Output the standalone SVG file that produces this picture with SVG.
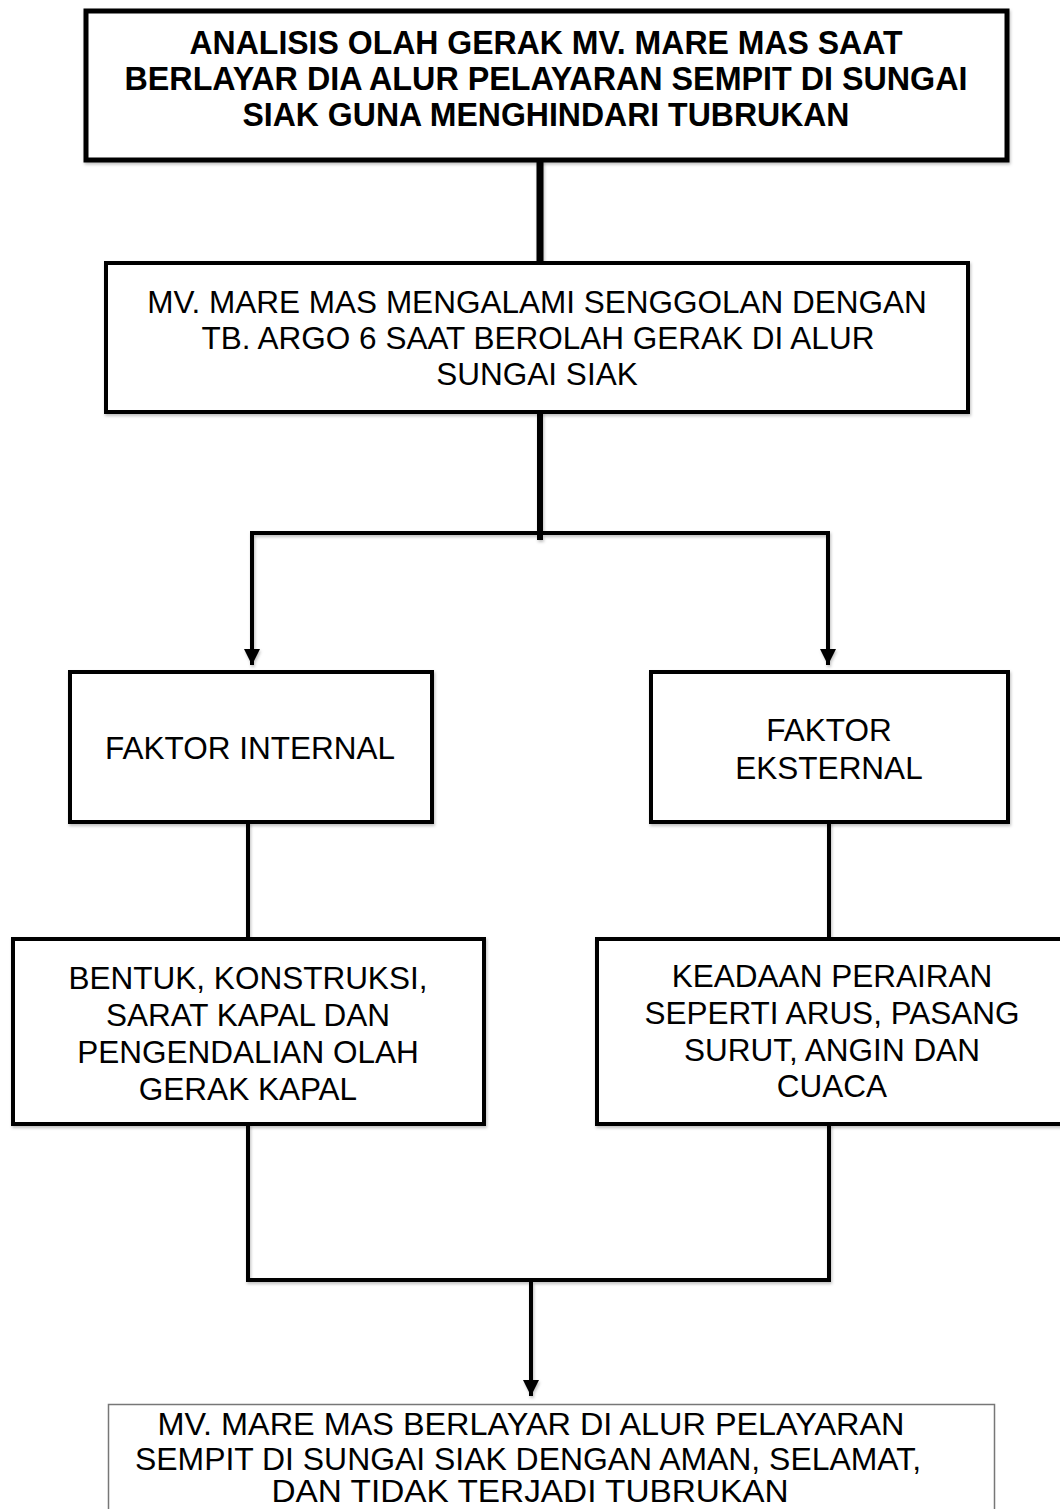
<svg xmlns="http://www.w3.org/2000/svg" width="1060" height="1509" viewBox="0 0 1060 1509">
<style>
  .box { fill: #fff; stroke: #000; stroke-width: 4; }
  .t { font-family: "Liberation Sans", Arial, sans-serif; font-size: 31.5px; fill: #000; text-anchor: middle; }
  .b { font-weight: bold; font-size: 34px; }
  .c { font-size: 31px; }
  .ln { fill: none; stroke: #000; stroke-width: 4; }
</style>
<defs>
  <filter id="sh" x="-5%" y="-5%" width="110%" height="120%">
    <feDropShadow dx="1" dy="2" stdDeviation="1.5" flood-color="#000" flood-opacity="0.25"/>
  </filter>
  <marker id="ah" markerUnits="userSpaceOnUse" markerWidth="16" markerHeight="16" refX="16" refY="8" orient="auto">
    <path d="M0,0 L16,8 L0,16 z" fill="#000"/>
  </marker>
</defs>

<g id="connectors" filter="url(#sh)">
  <line class="ln" x1="540" y1="160" x2="540" y2="262" style="stroke-width:7"/>
  <line class="ln" x1="540" y1="412" x2="540" y2="540" style="stroke-width:6"/>
  <path class="ln" d="M252,533 L828,533"/>
  <line class="ln" x1="252" y1="531" x2="252" y2="665" marker-end="url(#ah)"/>
  <line class="ln" x1="828" y1="531" x2="828" y2="665" marker-end="url(#ah)"/>
  <line class="ln" x1="248" y1="822" x2="248" y2="938"/>
  <line class="ln" x1="829" y1="822" x2="829" y2="938"/>
  <polyline class="ln" points="248,1124 248,1280 829,1280 829,1124"/>
  <line class="ln" x1="531" y1="1280" x2="531" y2="1396" marker-end="url(#ah)"/>
</g>

<g id="node-title">
  <rect class="box" x="86" y="11" width="921" height="149" style="stroke-width:5" filter="url(#sh)"/>
  <text class="t b" x="546" y="54" textLength="713" lengthAdjust="spacingAndGlyphs">ANALISIS OLAH GERAK MV. MARE MAS SAAT</text>
  <text class="t b" x="546" y="90" textLength="843" lengthAdjust="spacingAndGlyphs">BERLAYAR DIA ALUR PELAYARAN SEMPIT DI SUNGAI</text>
  <text class="t b" x="546" y="126" textLength="607" lengthAdjust="spacingAndGlyphs">SIAK GUNA MENGHINDARI TUBRUKAN</text>
</g>

<g id="node-problem">
  <rect class="box" x="106" y="263" width="862" height="149" filter="url(#sh)"/>
  <text class="t" x="537" y="313">MV. MARE MAS MENGALAMI SENGGOLAN DENGAN</text>
  <text class="t" x="538" y="349">TB. ARGO 6 SAAT BEROLAH GERAK DI ALUR</text>
  <text class="t" x="537" y="385">SUNGAI SIAK</text>
</g>

<g id="node-internal">
  <rect class="box" x="70" y="672" width="362" height="150" filter="url(#sh)"/>
  <text class="t" x="250" y="759">FAKTOR INTERNAL</text>
</g>

<g id="node-external">
  <rect class="box" x="651" y="672" width="357" height="150" filter="url(#sh)"/>
  <text class="t" x="829" y="741">FAKTOR</text>
  <text class="t" x="829" y="779">EKSTERNAL</text>
</g>

<g id="node-internal-detail">
  <rect class="box" x="13" y="939" width="471" height="185" filter="url(#sh)"/>
  <text class="t" x="248" y="989">BENTUK, KONSTRUKSI,</text>
  <text class="t" x="248" y="1026">SARAT KAPAL DAN</text>
  <text class="t" x="248" y="1063">PENGENDALIAN OLAH</text>
  <text class="t" x="248" y="1100">GERAK KAPAL</text>
</g>

<g id="node-external-detail">
  <rect class="box" x="597" y="939" width="470" height="185" filter="url(#sh)"/>
  <text class="t" x="832" y="987">KEADAAN PERAIRAN</text>
  <text class="t" x="832" y="1024">SEPERTI ARUS, PASANG</text>
  <text class="t" x="832" y="1061">SURUT, ANGIN DAN</text>
  <text class="t" x="832" y="1097">CUACA</text>
</g>

<g id="node-result">
  <rect x="108.5" y="1404.5" width="886" height="120" fill="#fff" stroke="#777" stroke-width="1.5"/>
  <text class="t c" x="531" y="1435" textLength="747" lengthAdjust="spacingAndGlyphs">MV. MARE MAS BERLAYAR DI ALUR PELAYARAN</text>
  <text class="t c" x="528" y="1470" textLength="786" lengthAdjust="spacingAndGlyphs">SEMPIT DI SUNGAI SIAK DENGAN AMAN, SELAMAT,</text>
  <text class="t c" x="530" y="1502" textLength="517" lengthAdjust="spacingAndGlyphs">DAN TIDAK TERJADI TUBRUKAN</text>
</g>
</svg>
